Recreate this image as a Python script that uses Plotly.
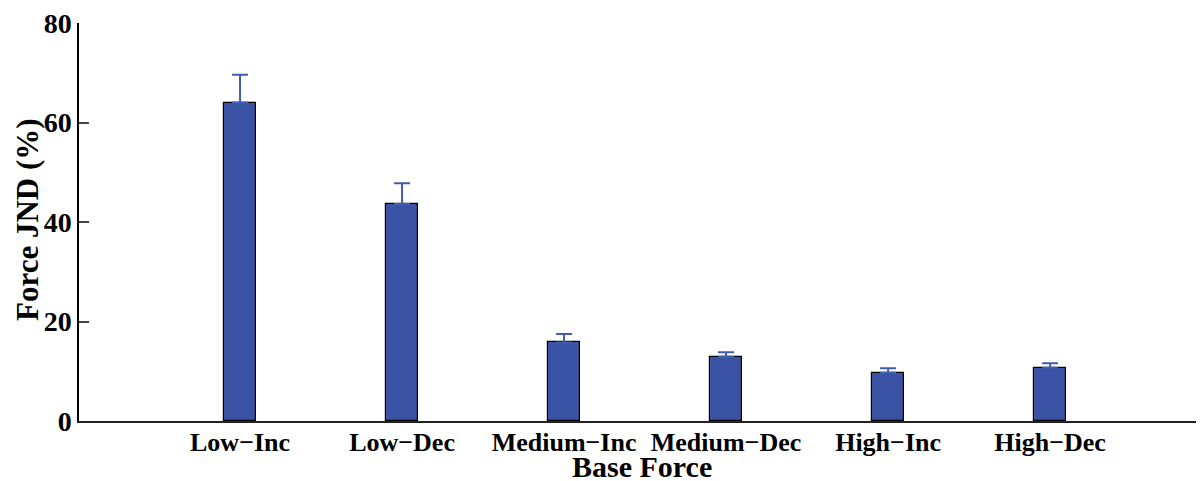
import plotly.graph_objects as go

categories = ["Low\u2212Inc", "Low\u2212Dec", "Medium\u2212Inc", "Medium\u2212Dec", "High\u2212Inc", "High\u2212Dec"]
jnd_mean = [64.0, 43.6, 15.8, 12.9, 9.7, 10.7]
jnd_err = [5.6, 4.2, 1.7, 0.9, 0.9, 0.9]
y_ticks = [0, 20, 40, 60, 80]

x_pos = list(range(len(categories)))
font_family = "Liberation Serif, Times New Roman, serif"

# page body has an ~8px default margin, so the figure is sized/offset to compensate
W, H = 1196, 473
L, T = 71, 15
PLOT_H = 398
B = H - T - PLOT_H

fig = go.Figure()
fig.add_trace(go.Bar(
    x=x_pos,
    y=jnd_mean,
    width=0.2,
    marker=dict(color="#3A53A4", line=dict(color="#000000", width=1.2)),
    error_y=dict(type="data", symmetric=False, array=jnd_err, arrayminus=[0] * len(jnd_err),
                 color="#3F5CB0", thickness=2, width=8),
))

fig.update_layout(
    width=W, height=H,
    margin=dict(l=L, r=0, t=T, b=B),
    plot_bgcolor="white", paper_bgcolor="white",
    showlegend=False,
    bargap=0,
    font=dict(family=font_family, color="black"),
    xaxis=dict(
        range=[-0.994, 5.95],
        automargin=False,
        tickmode="array", tickvals=x_pos, ticktext=categories,
        tickfont=dict(family=font_family, size=26, color="black", weight="bold"),
        ticklabelstandoff=-3,
        ticklabeloverflow="allow",
        showline=True, linecolor="#222222", linewidth=2,
        ticks="", showgrid=False, zeroline=False,
    ),
    yaxis=dict(
        range=[0, 80],
        automargin=False,
        tickmode="array", tickvals=y_ticks,
        tickfont=dict(family=font_family, size=28, color="black", weight="bold"),
        ticklabeloverflow="allow",
        showline=True, linecolor="#000000", linewidth=1.5,
        ticks="inside", ticklen=10, tickcolor="#444444", tickwidth=1.5,
        showgrid=False, zeroline=False,
    ),
    annotations=[
        dict(text="<b>Base Force</b>", xref="paper", yref="paper", x=(642 - 79) / 1125, y=-(466 - 421) / PLOT_H,
             xanchor="center", yanchor="middle", showarrow=False,
             font=dict(family=font_family, size=30, color="black")),
        dict(text="<b>Force JND (%)</b>", xref="paper", yref="paper", x=(27 - 79) / 1125, y=(421 - 220) / PLOT_H,
             xanchor="center", yanchor="middle", textangle=-90, showarrow=False,
             font=dict(family=font_family, size=31, color="black")),
    ],
)

fig.write_html("out.html")
